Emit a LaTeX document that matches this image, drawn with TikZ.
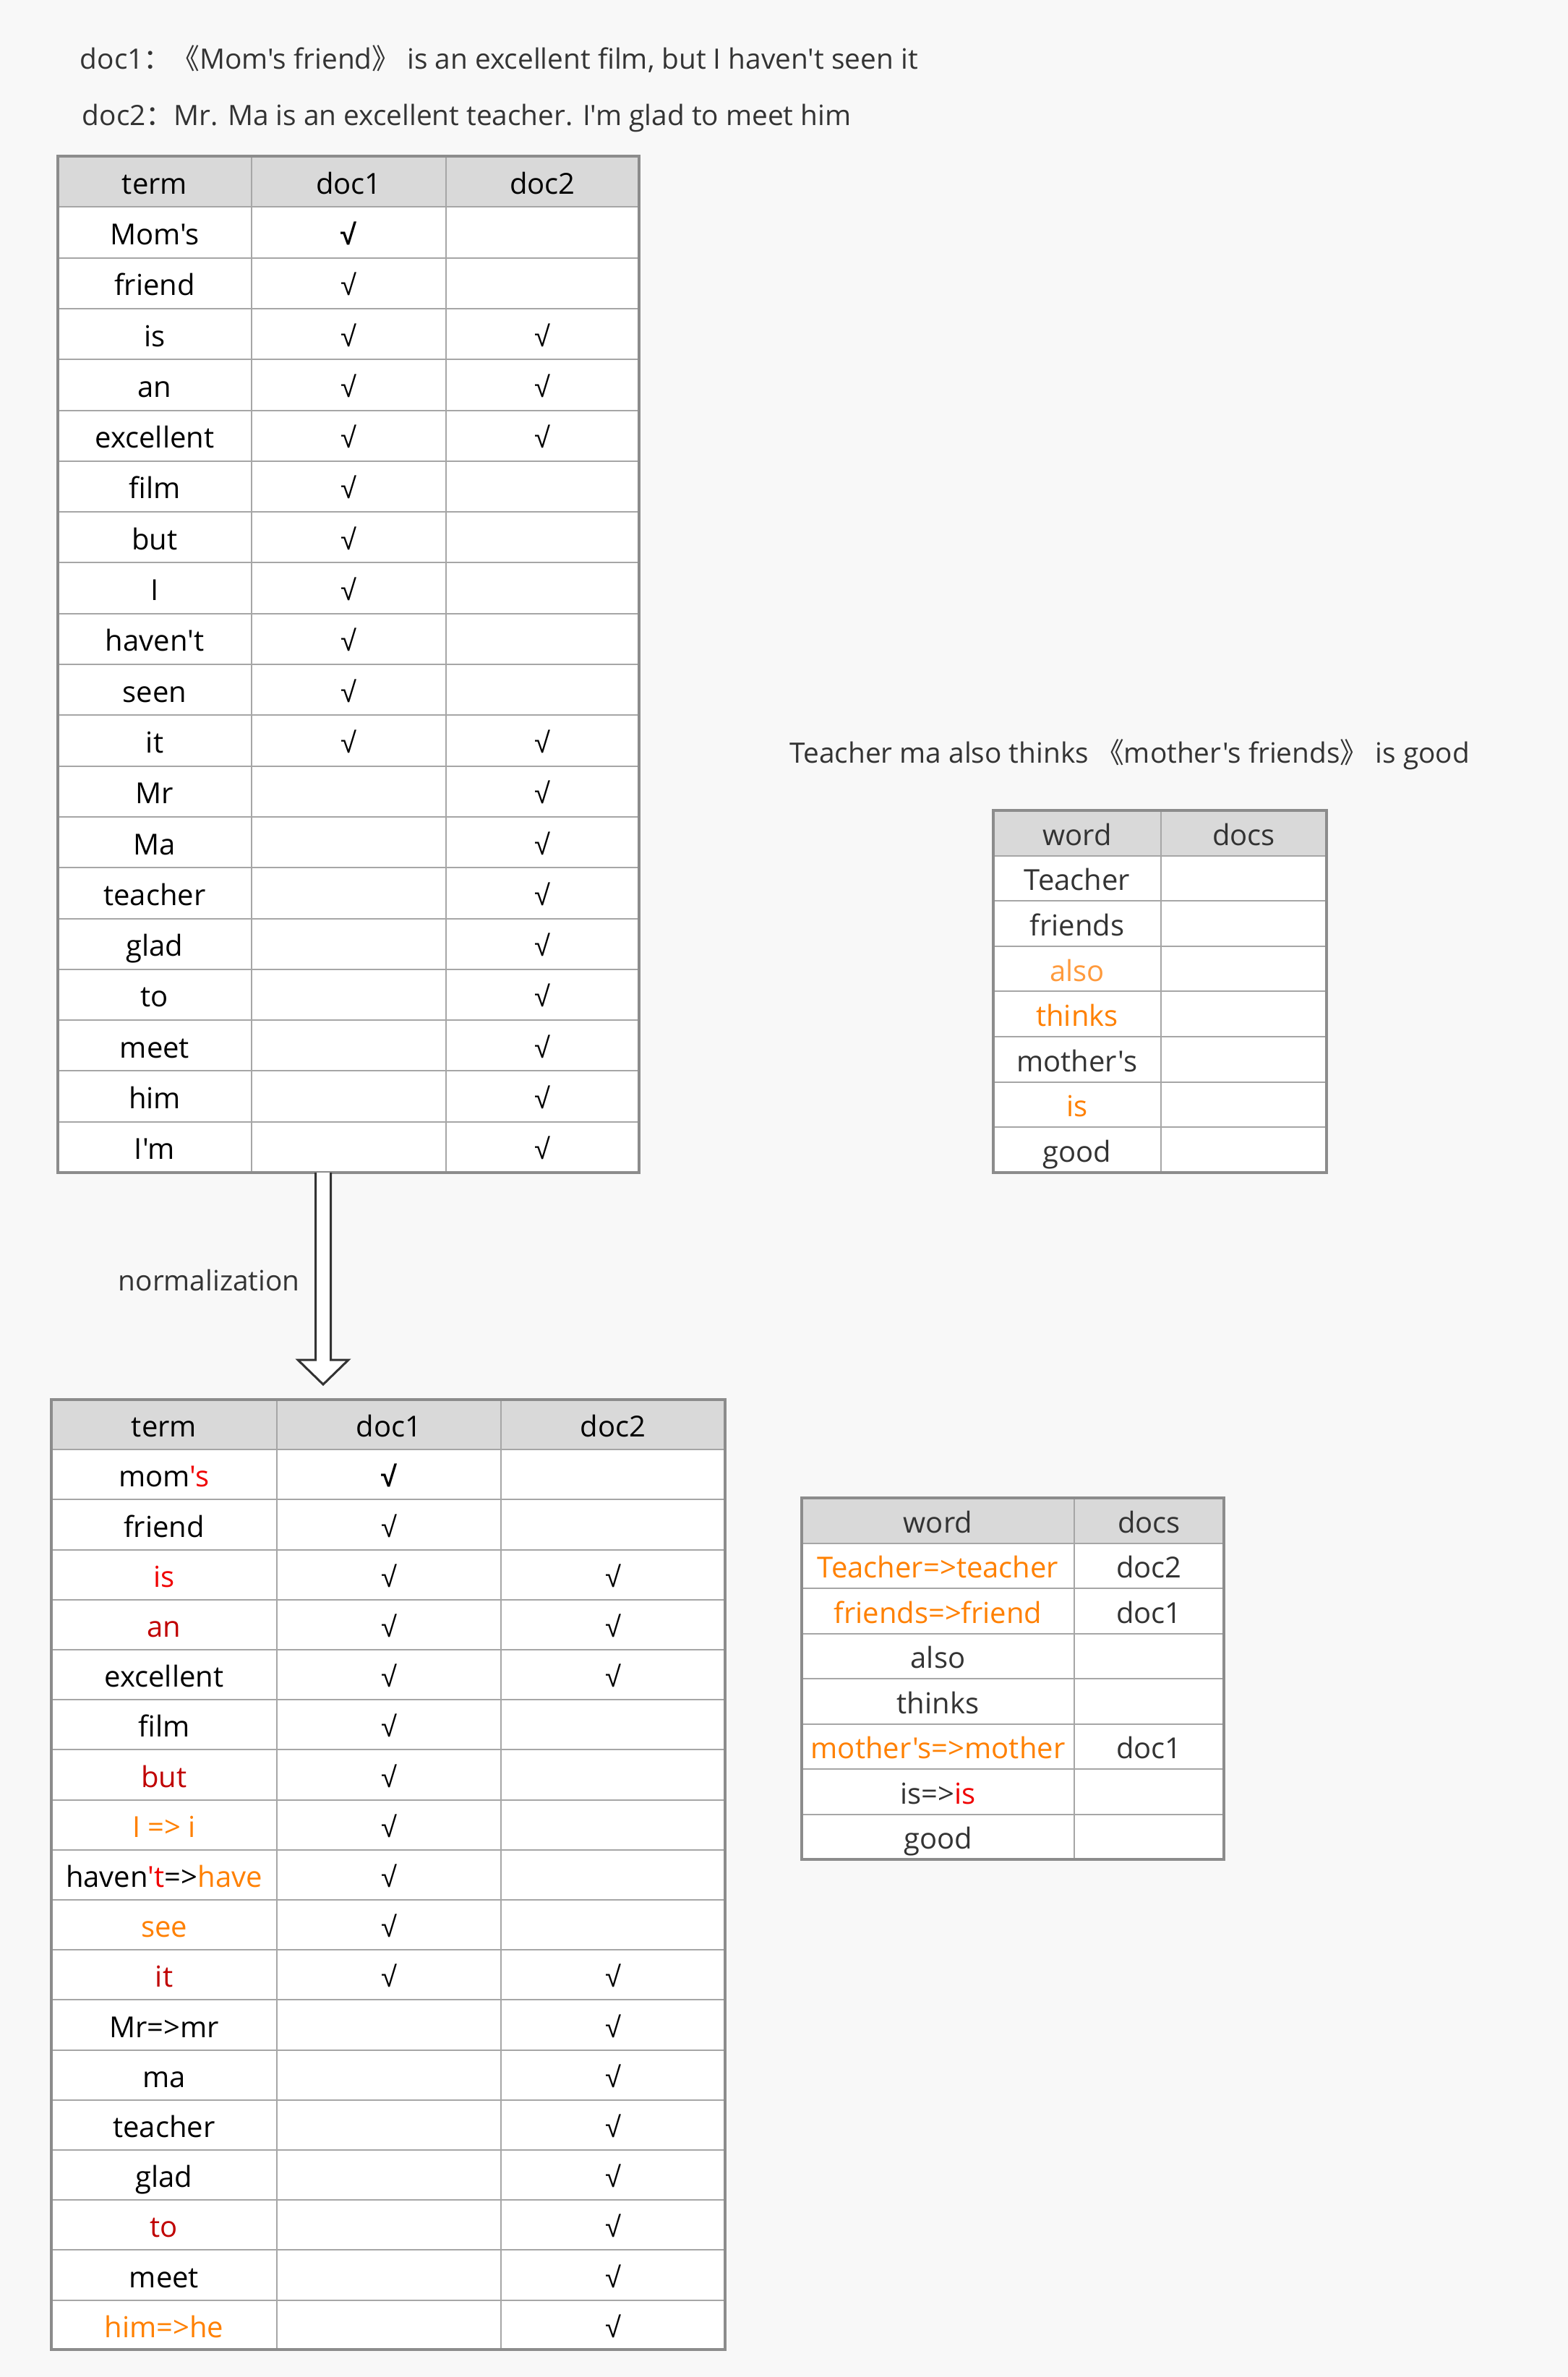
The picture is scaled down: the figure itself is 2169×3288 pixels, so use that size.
\documentclass[tikz,border=0pt]{standalone}
\usepackage{fontspec}
\setmainfont{Open Sans}[Ligatures=TeXOff]
\newfontfamily\cjk{Noto Sans CJK SC}
\newfontfamily\symfont{Liberation Sans}
\usetikzlibrary{calc}
\definecolor{bg}{HTML}{F8F8F8}
\definecolor{headgray}{HTML}{D9D9D9}
\definecolor{linegray}{HTML}{A6A6A6}
\definecolor{framegray}{HTML}{8C8C8C}
\definecolor{ink}{HTML}{333333}
\definecolor{orng}{HTML}{FF8000}
\definecolor{lorng}{HTML}{FF9A3C}
\definecolor{brred}{HTML}{F00000}
\definecolor{dkred}{HTML}{C00000}
\newcommand{\chk}{{\symfont √}}
\newcommand{\bchk}{{\symfont\bfseries √}}
\newcommand{\og}[1]{\textcolor{orng}{#1}}
\newcommand{\lo}[1]{\textcolor{lorng}{#1}}
\newcommand{\rd}[1]{\textcolor{brred}{#1}}
\newcommand{\dr}[1]{\textcolor{dkred}{#1}}
\tikzset{
  cell/.style={font=\fontsize{10}{12}\selectfont, text height=9pt, text depth=0.5pt, inner sep=0pt},
  grid/.style={draw=linegray, line width=0.5pt},
  frame/.style={draw=framegray, line width=1pt},
  caption/.style={font=\fontsize{9.7}{12}\selectfont, text=ink, inner sep=0pt, anchor=base west},
  hollow/.style={draw=ink, fill=white, line width=0.75pt, line join=miter}
}
\begin{document}
\begin{tikzpicture}[x=0.25pt,y=-0.25pt]
  \useasboundingbox (0,0) rectangle (2169,3288);
  \fill[bg] (0,0) rectangle (2169,3288);

  % sentences
  \node[caption] (doc1) at (110,95) {doc1{\cjk ：《}Mom's friend{\cjk 》} is an excellent film, but I haven't seen it};
  \node[caption] (doc2) at (113,173) {doc2{\cjk ：}Mr. Ma is an excellent teacher. I'm glad to meet him};
  \node[caption] (query) at (1092,1055) {Teacher ma also thinks {\cjk 《}mother's friends{\cjk 》} is good};

  % term table before normalization
  \fill[white] (80,216) rectangle (884,1622);
  \fill[headgray] (80,216) rectangle (884,286.3);
  \foreach \i in {1,...,19} \draw[grid] (80,{216+70.3*\i}) -- (884,{216+70.3*\i});
  \draw[grid] (348,216) -- (348,1622) (617,216) -- (617,1622);
  \draw[frame] (80,216) rectangle (884,1622);
  \node[cell] (tterm) at (214,251.15) {term};
  \node[cell] (tdoc1) at (482.5,251.15) {doc1};
  \node[cell] (tdoc2) at (750.5,251.15) {doc2};
  \foreach \t/\a/\b [count=\i] in {Mom's/\bchk/, friend/\chk/, is/\chk/\chk, an/\chk/\chk,
      excellent/\chk/\chk, film/\chk/, but/\chk/, I/\chk/, haven't/\chk/, seen/\chk/,
      it/\chk/\chk, Mr//\chk, Ma//\chk, teacher//\chk, glad//\chk, to//\chk, meet//\chk,
      him//\chk, I'm//\chk}{
    \node[cell] (ta\i) at (214,{251.15+70.3*\i}) {\t};
    \node[cell] (tb\i) at (482.5,{251.15+70.3*\i}) {\a};
    \node[cell] (tc\i) at (750.5,{251.15+70.3*\i}) {\b};
  }

  % normalization arrow
  \coordinate (arrowtop) at (447,1622);
  \coordinate (arrowtip) at (447,1915);
  \draw[hollow] ($(arrowtop)+(-10.5,0)$) -- ($(arrowtip)+(-10.5,-34)$) -- ($(arrowtip)+(-35,-34)$)
    -- (arrowtip) -- ($(arrowtip)+(35,-34)$) -- ($(arrowtip)+(10.5,-34)$) -- ($(arrowtop)+(10.5,0)$);
  \node[caption] (norm) at (163,1785) {normalization};

  % term table after normalization
  \fill[white] (71,1936) rectangle (1003,3250);
  \fill[headgray] (71,1936) rectangle (1003,2005.2);
  \foreach \i in {1,...,18} \draw[grid] (71,{1936+69.2*\i}) -- (1003,{1936+69.2*\i});
  \draw[grid] (383,1936) -- (383,3250) (693,1936) -- (693,3250);
  \draw[frame] (71,1936) rectangle (1003,3250);
  \node[cell] (nterm) at (227,1970.6) {term};
  \node[cell] (ndoc1) at (538,1970.6) {doc1};
  \node[cell] (ndoc2) at (848,1970.6) {doc2};
  \foreach \t/\a/\b [count=\i] in {mom\rd{'s}/\bchk/, friend/\chk/, \rd{is}/\chk/\chk,
      \dr{an}/\chk/\chk, excellent/\chk/\chk, film/\chk/, \dr{but}/\chk/, \og{I => i}/\chk/,
      haven\rd{'t}=>\og{have}/\chk/, \og{see}/\chk/, \dr{it}/\chk/\chk, Mr=>mr//\chk,
      ma//\chk, teacher//\chk, glad//\chk, \dr{to}//\chk, meet//\chk, \og{him=>he}//\chk}{
    \node[cell] (na\i) at (227,{1970.6+69.2*\i}) {\t};
    \node[cell] (nb\i) at (538,{1970.6+69.2*\i}) {\a};
    \node[cell] (nc\i) at (848,{1970.6+69.2*\i}) {\b};
  }

  % query words
  \fill[white] (1374,1121) rectangle (1835,1622);
  \fill[headgray] (1374,1121) rectangle (1835,1183.6);
  \foreach \i in {1,...,7} \draw[grid] (1374,{1121+62.6*\i}) -- (1835,{1121+62.6*\i});
  \draw[grid] (1606,1121) -- (1606,1622);
  \draw[frame] (1374,1121) rectangle (1835,1622);
  \node[cell, text=ink] (qword) at (1490,1152.3) {word};
  \node[cell, text=ink] (qdocs) at (1720.5,1152.3) {docs};
  \foreach \t [count=\i] in {Teacher, friends, \lo{also}, \og{thinks}, mother's, \og{is}, good}
    \node[cell, text=ink] (qa\i) at (1490,{1152.3+62.6*\i}) {\t};

  % normalized query words
  \fill[white] (1109,2072) rectangle (1693,2572);
  \fill[headgray] (1109,2072) rectangle (1693,2134.5);
  \foreach \i in {1,...,7} \draw[grid] (1109,{2072+62.5*\i}) -- (1693,{2072+62.5*\i});
  \draw[grid] (1486,2072) -- (1486,2572);
  \draw[frame] (1109,2072) rectangle (1693,2572);
  \node[cell, text=ink] (mword) at (1297.5,2103.25) {word};
  \node[cell, text=ink] (mdocs) at (1589.5,2103.25) {docs};
  \foreach \t/\a [count=\i] in {\og{Teacher=>teacher}/doc2, \og{friends=>friend}/doc1, also/,
      thinks/, \og{mother's=>mother}/doc1, is=>\rd{is}/, good/}{
    \node[cell, text=ink] (ma\i) at (1297.5,{2103.25+62.5*\i}) {\t};
    \node[cell, text=ink] (mb\i) at (1589.5,{2103.25+62.5*\i}) {\a};
  }
\end{tikzpicture}
\end{document}
